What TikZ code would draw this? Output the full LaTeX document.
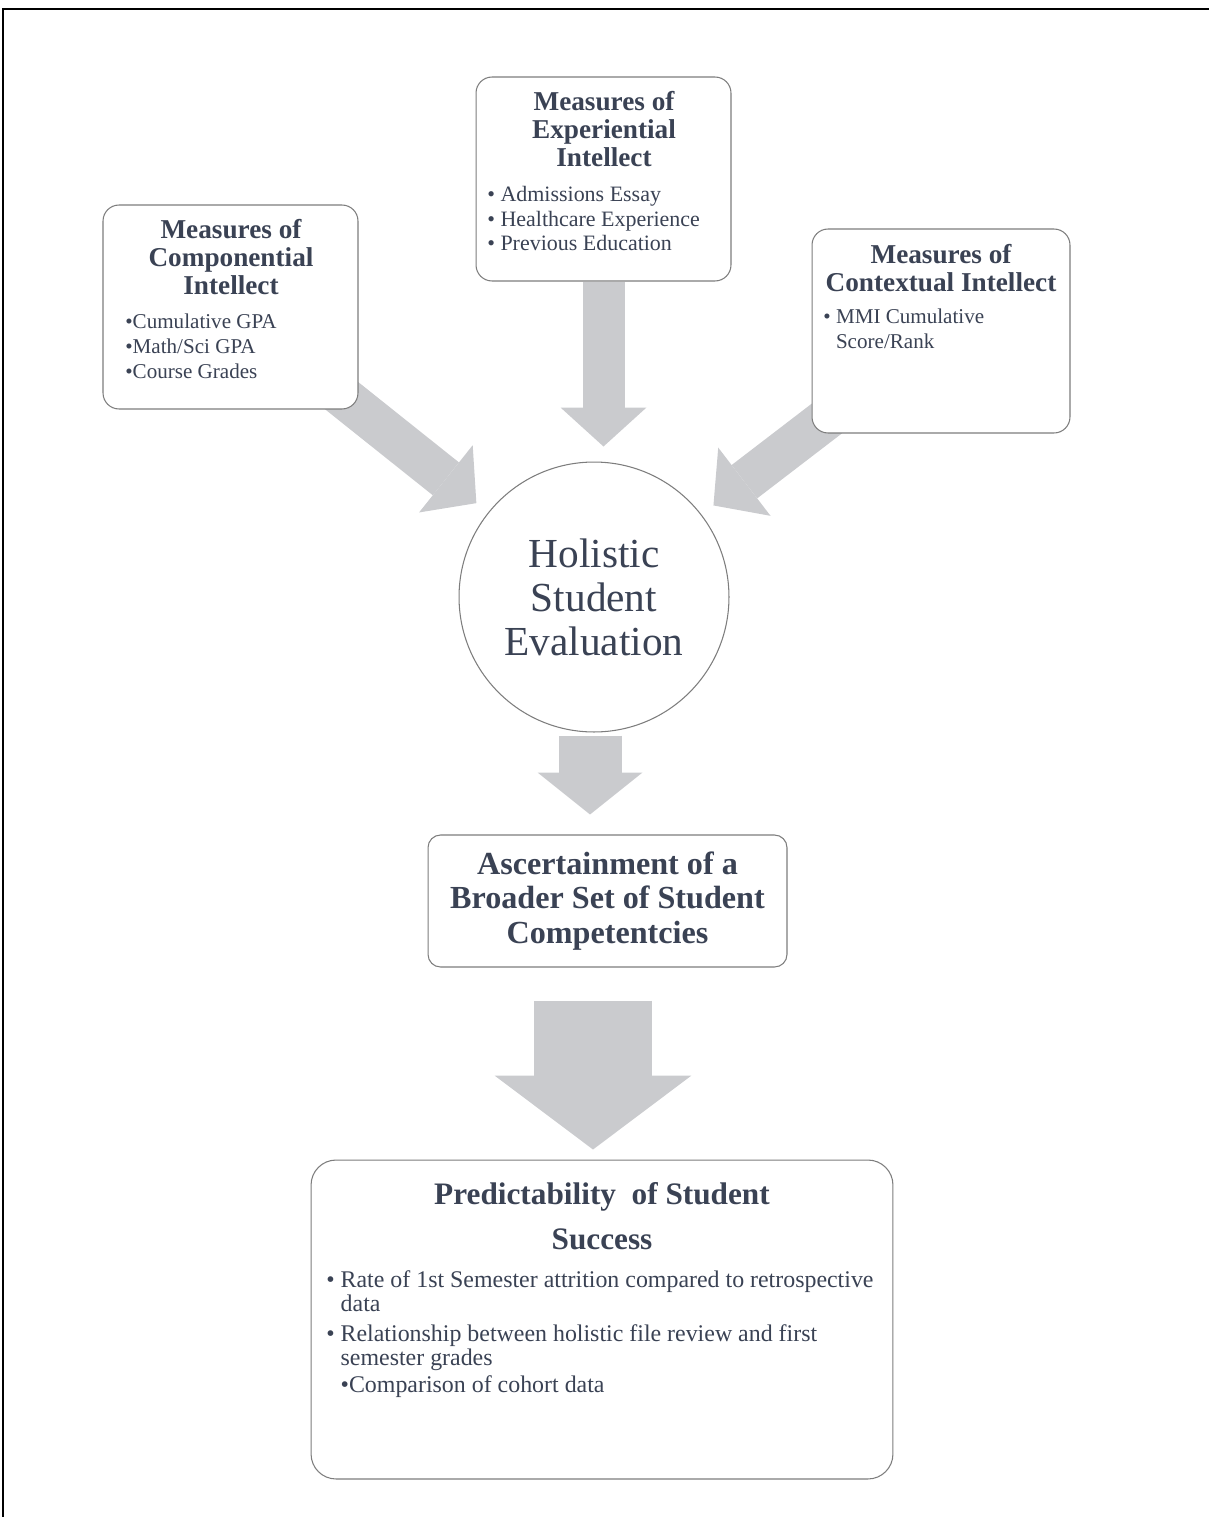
\documentclass[tikz,border=0pt]{standalone}
\usepackage{fontspec}
\setmainfont{Liberation Serif}
\usetikzlibrary{arrows.meta,positioning}
\definecolor{txtc}{RGB}{58,66,84}
\definecolor{boxc}{RGB}{125,125,125}
\definecolor{arrc}{RGB}{202,203,206}
\pgfdeclarelayer{bg}
\pgfsetlayers{bg,main}

\begin{document}
\begin{tikzpicture}[x=0.02cm, y=-0.02cm,
    box/.style={draw=boxc, fill=white, rounded corners=0.32cm, line width=0.6pt},
    ttl/.style={text=txtc, inner sep=0pt, font=\fontsize{15.5}{16}\selectfont\bfseries, align=center},
    lst/.style={text=txtc, inner sep=0pt, font=\fontsize{12}{14.2}\selectfont, align=left, anchor=west},
    flow/.style={draw=arrc, line width=0.84cm, -{Triangle[length=0.78cm, width=1.72cm, line width=0pt]}}]
          \useasboundingbox (0,0) rectangle (1209,1517);
          \draw[line width=1.6pt] (2,9) -- (1209,9);
          \draw[line width=1.6pt] (3,9) -- (3,1517);

          \node[box, minimum width=5.1cm, minimum height=4.08cm] (comp) at (230.5,307) {};
          \node[ttl] (compt) at (231,257) {Measures of\\Componential\\Intellect};
          \node[lst] (compl) at (125,346) {\textbullet Cumulative GPA\\\textbullet Math/Sci GPA\\\textbullet Course Grades};

          \node[box, minimum width=5.1cm, minimum height=4.08cm] (exp) at (603.5,179) {};
          \node[ttl] (expt) at (604,129) {Measures of\\Experiential\\Intellect};
          \node[lst, font=\fontsize{12.5}{14.2}\selectfont] (expl) at (487,218.5) {\textbullet\ Admissions Essay\\\textbullet\ Healthcare Experience\\\textbullet\ Previous Education};

          \node[box, minimum width=5.16cm, minimum height=4.08cm] (ctx) at (941,331) {};
          \node[ttl] (ctxt) at (941,268) {Measures of\\Contextual Intellect};
          \node[lst] (ctxl) at (823,328.5) {\textbullet\ MMI Cumulative\\\phantom{\textbullet\ }Score/Rank};

          \node[circle, draw=boxc, fill=white, line width=0.6pt, minimum size=5.4cm, text=txtc,
            font=\fontsize{23.5}{25}\selectfont, align=center] (hol) at (594,597) {Holistic\\Student\\Evaluation};

          \node[box, rounded corners=0.25cm, minimum width=7.18cm, minimum height=2.64cm, text=txtc,
            font=\fontsize{18.3}{19.5}\selectfont\bfseries, align=center] (asc) at (607.5,901) {Ascertainment of a\\Broader Set of Student\\Competentcies};

          \node[box, rounded corners=0.5cm, minimum width=11.64cm, minimum height=6.38cm] (pred) at (602,1319.5) {};
          \node[ttl, font=\fontsize{17.8}{25.5}\selectfont\bfseries] (predt) at (602,1216) {Predictability\ \ of Student\\Success};
          \node[lst, font=\fontsize{13.6}{13.6}\selectfont] (predl) at (326,1334.5) {\textbullet\ Rate of 1st Semester attrition compared to retrospective\\
            \phantom{\textbullet\ }data\\[3.4pt]
            \textbullet\ Relationship between holistic file review and first\\
            \phantom{\textbullet\ }semester grades\\[2pt]
            \phantom{\textbullet\ }\textbullet Comparison of cohort data};

          % grey block arrows behind the boxes
          \begin{pgfonlayer}{bg}
          \draw[flow, shorten >=0.3cm] (comp.center) -- (hol);
          \draw[flow, shorten >=0.3cm] (ctx.center) -- (hol);
          \draw[flow, shorten >=0.3cm] (exp.south) -- (exp.south |- hol.north);
          \draw[flow, line width=1.26cm, -{Triangle[length=0.84cm, width=2.1cm, line width=0pt]}, shorten <=0.06cm, shorten >=0.4cm]
            ([xshift=-0.08cm]hol.south) -- ([xshift=-0.08cm]hol.south |- asc.north);
          \draw[flow, line width=2.36cm, -{Triangle[length=1.48cm, width=3.94cm, line width=0pt]}, shorten <=0.66cm, shorten >=0.2cm]
            ([xshift=-0.18cm]pred.north |- asc.south) -- ([xshift=-0.18cm]pred.north);
          \end{pgfonlayer}
        \end{tikzpicture}
\end{document}
